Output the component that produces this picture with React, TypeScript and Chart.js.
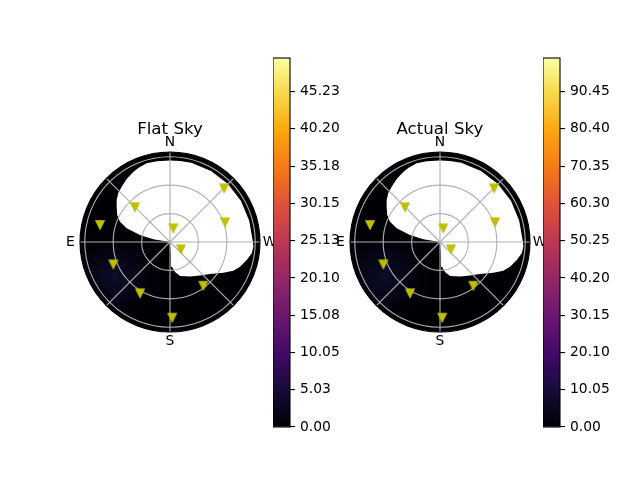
import React, { useEffect, useRef } from 'react';
import { Chart, registerables } from 'chart.js';

Chart.register(...registerables);
Chart.defaults.font.family = '"DejaVu Sans", sans-serif';
Chart.defaults.color = '#000000';

// ---- data ----
// star markers: azimuth (deg, counter-clockwise from N, E on the left) and zenith angle (deg)
const starAz = [314.8, 45.2, 289.7, 76.3, 346.5, 236.4, 111.5, 217.3, 149.7, 181.7];
const starZen = [80.5, 52.1, 61.7, 76.0, 14.9, 13.9, 64.3, 58.0, 62.7, 79.9];

// boundary of the masked (no data, white) region, projected sky plane in degrees
const maskX = [0, -17.6, -31.7, -45.7, -52.8, -55.7, -56.3, -56.3, -54.6, -51.0, -45.7, -38.8, -33.5, -24.6, -14.0, 0, 10.6, 22.4, 43.3, 61.2, 75.0, 83.6, 87.5, 88.0, 86.3, 81.0, 73.9, 66.8, 56.3, 42.2, 31.7, 21.1, 10.6, 5.3, 2.1, 1.1, 0];
const maskY = [0, 2.9, 7.4, 14.5, 21.4, 28.5, 37.3, 44.4, 51.7, 58.4, 66.5, 73.9, 78.1, 83.1, 85.2, 86.1, 85.5, 83.6, 75.0, 61.2, 43.3, 22.4, 0, -5.0, -11.9, -19.0, -26.1, -30.3, -32.4, -33.8, -35.4, -36.4, -35.9, -31.7, -26.1, -13.7, 0];

// faint low-value glow in the contour field (projected plane, degrees)
const glowX = -58;
const glowY = -36;
const glowRadius = 55;

const zenithTicks = [30, 60, 90];
const azimuthLines = [0, 45, 90, 135, 180, 225, 270, 315];
const compassLabels = ['N', 'E', 'S', 'W'];
const compassAz = [0, 90, 180, 270];
const rMax = 95;

const flatTickLabels = ['0.00', '5.03', '10.05', '15.08', '20.10', '25.13', '30.15', '35.18', '40.20', '45.23'];
const flatMax = 49.75;
const actualTickLabels = ['0.00', '10.05', '20.10', '30.15', '40.20', '50.25', '60.30', '70.35', '80.40', '90.45'];
const actualMax = 99.5;

const panelTitles = ['Flat Sky', 'Actual Sky'];

// inferno colormap stops
const infernoStops = ['#000004', '#160b39', '#420a68', '#6a176e', '#932667', '#bc3754', '#dd513a', '#f37819', '#fca50a', '#f6d746', '#fcffa4'];

const LABEL_FONT = '13.89px "DejaVu Sans", sans-serif';
const TITLE_FONT = '16.67px "DejaVu Sans", sans-serif';
const D2R = Math.PI / 180;

function makeMarker(): HTMLCanvasElement {
  const c = document.createElement('canvas');
  c.width = 12;
  c.height = 12;
  const g = c.getContext('2d')!;
  g.beginPath();
  g.moveTo(1.8, 1.8);
  g.lineTo(10.2, 1.8);
  g.lineTo(6, 10.2);
  g.closePath();
  g.fillStyle = '#bfbf00';
  g.fill();
  g.strokeStyle = '#bfbf00';
  g.lineWidth = 1.2;
  g.lineJoin = 'miter';
  g.stroke();
  return c;
}

const polarPlugin = {
  id: 'polarSky',
  beforeDatasetsDraw(chart: any) {
    const { ctx, scales } = chart;
    const x = scales.x, y = scales.y;
    const cx = x.getPixelForValue(0), cy = y.getPixelForValue(0);
    const R = x.getPixelForValue(rMax) - cx;
    ctx.save();
    ctx.beginPath();
    ctx.arc(cx, cy, R, 0, Math.PI * 2);
    ctx.fillStyle = '#000004';
    ctx.fill();
    ctx.clip();
    const gx = x.getPixelForValue(glowX), gy = y.getPixelForValue(glowY);
    const gr = x.getPixelForValue(glowRadius) - cx;
    const grad = ctx.createRadialGradient(gx, gy, 0, gx, gy, gr);
    grad.addColorStop(0, 'rgba(14,13,46,0.95)');
    grad.addColorStop(0.45, 'rgba(9,8,32,0.6)');
    grad.addColorStop(1, 'rgba(0,0,4,0)');
    ctx.fillStyle = grad;
    ctx.fillRect(cx - R, cy - R, 2 * R, 2 * R);
    ctx.restore();
  },
  afterDatasetDraw(chart: any, args: any) {
    if (args.index !== 1) return;
    const { ctx, scales } = chart;
    const x = scales.x, y = scales.y;
    const cx = x.getPixelForValue(0), cy = y.getPixelForValue(0);
    ctx.save();
    ctx.strokeStyle = '#b0b0b0';
    ctx.lineWidth = 1.1;
    for (const t of zenithTicks) {
      const r = x.getPixelForValue(t) - cx;
      ctx.beginPath();
      ctx.arc(cx, cy, r, 0, Math.PI * 2);
      ctx.stroke();
    }
    for (const a of azimuthLines) {
      const px = x.getPixelForValue(-rMax * Math.sin(a * D2R));
      const py = y.getPixelForValue(rMax * Math.cos(a * D2R));
      ctx.beginPath();
      ctx.moveTo(cx, cy);
      ctx.lineTo(px, py);
      ctx.stroke();
    }
    const R = x.getPixelForValue(rMax) - cx;
    ctx.strokeStyle = '#000000';
    ctx.beginPath();
    ctx.arc(cx, cy, R, 0, Math.PI * 2);
    ctx.stroke();
    ctx.restore();
  },
  afterDraw(chart: any, _args: any, opts: any) {
    const { ctx, scales, chartArea } = chart;
    const x = scales.x, y = scales.y;
    const cx = x.getPixelForValue(0), cy = y.getPixelForValue(0);
    const R = x.getPixelForValue(rMax) - cx;
    ctx.save();
    ctx.fillStyle = '#000000';
    ctx.font = LABEL_FONT;
    ctx.textAlign = 'center';
    ctx.textBaseline = 'middle';
    compassLabels.forEach((lab, i) => {
      const a = compassAz[i] * D2R;
      const rr = R + 9.5;
      ctx.fillText(lab, cx - rr * Math.sin(a), cy - rr * Math.cos(a));
    });
    ctx.font = TITLE_FONT;
    ctx.textBaseline = 'alphabetic';
    ctx.fillText(opts.title || '', cx, chartArea.top - 18.5);
    ctx.restore();
  },
};

const colorbarPlugin = {
  id: 'cbFrame',
  afterDraw(chart: any) {
    const { ctx, chartArea } = chart;
    ctx.save();
    ctx.strokeStyle = '#000000';
    ctx.lineWidth = 1.1;
    ctx.strokeRect(chartArea.left, chartArea.top, chartArea.right - chartArea.left, chartArea.bottom - chartArea.top);
    ctx.restore();
  },
};

function PolarPanel({ title, left }: { title: string; left: number }) {
  const ref = useRef<HTMLCanvasElement>(null);
  useEffect(() => {
    const marker = makeMarker();
    const stars = starAz.map((az, i) => ({
      x: -starZen[i] * Math.sin(az * D2R),
      y: starZen[i] * Math.cos(az * D2R),
    }));
    const mask = maskX.map((mx, i) => ({ x: mx, y: maskY[i] }));
    const chart = new Chart(ref.current!, {
      type: 'scatter',
      data: {
        datasets: [
          {
            data: stars,
            pointStyle: marker as any,
            pointRadius: 5,
            backgroundColor: '#bfbf00',
            borderColor: '#bfbf00',
          } as any,
          {
            type: 'line',
            data: mask,
            fill: 'shape',
            backgroundColor: '#ffffff',
            borderColor: 'rgba(0,0,0,0)',
            borderWidth: 0,
            pointRadius: 0,
            tension: 0,
          } as any,
        ],
      },
      options: {
        animation: false,
        responsive: false,
        maintainAspectRatio: false,
        layout: { padding: { left: 40, top: 52, right: 40, bottom: 28 } },
        scales: {
          x: { type: 'linear', min: -rMax, max: rMax, display: false },
          y: { type: 'linear', min: -rMax, max: rMax, display: false },
        },
        plugins: {
          legend: { display: false },
          tooltip: { enabled: false },
          polarSky: { title } as any,
        } as any,
      },
      plugins: [polarPlugin],
    });
    return () => chart.destroy();
  }, [title]);
  return (
    <canvas
      ref={ref}
      width={260}
      height={260}
      style={{ position: 'absolute', left, top: 100, width: 260, height: 260 }}
    />
  );
}

function Colorbar({ labels, max, left }: { labels: string[]; max: number; left: number }) {
  const ref = useRef<HTMLCanvasElement>(null);
  useEffect(() => {
    const values = labels.map((l) => parseFloat(l));
    const chart = new Chart(ref.current!, {
      type: 'bar',
      data: {
        labels: [''],
        datasets: [
          {
            data: [max],
            borderWidth: 0,
            barPercentage: 1,
            categoryPercentage: 1,
            backgroundColor: (c: any) => {
              const area = c.chart.chartArea;
              if (!area) return '#000004';
              const g = c.chart.ctx.createLinearGradient(0, area.bottom, 0, area.top);
              infernoStops.forEach((col, i) => g.addColorStop(i / (infernoStops.length - 1), col));
              return g;
            },
          } as any,
        ],
      },
      options: {
        animation: false,
        responsive: false,
        maintainAspectRatio: false,
        layout: { padding: { left: 0, right: 0, top: 18, bottom: 23 } },
        plugins: { legend: { display: false }, tooltip: { enabled: false } },
        scales: {
          x: { display: false },
          y: {
            position: 'right',
            min: 0,
            max,
            afterBuildTicks: (s: any) => {
              s.ticks = values.map((v) => ({ value: v }));
            },
            afterFit: (s: any) => {
              s.width = 60;
            },
            ticks: {
              autoSkip: false,
              padding: 5,
              color: '#000000',
              font: { size: 13.89, family: '"DejaVu Sans", sans-serif' },
              callback: (_v: any, i: number) => labels[i],
            },
            grid: { drawOnChartArea: false, drawTicks: true, tickLength: 5, color: '#000000', lineWidth: 1.1 },
            border: { display: false },
          } as any,
        },
      },
      plugins: [colorbarPlugin],
    });
    return () => chart.destroy();
  }, [labels, max]);
  return (
    <canvas
      ref={ref}
      width={77}
      height={410}
      style={{ position: 'absolute', left, top: 40, width: 77, height: 410 }}
    />
  );
}

export default function App() {
  return (
    <div style={{ position: 'absolute', left: 0, top: 0, width: 640, height: 480, background: '#ffffff', overflow: 'hidden' }}>
      <PolarPanel title={panelTitles[0]} left={40} />
      <Colorbar labels={flatTickLabels} max={flatMax} left={273} />
      <PolarPanel title={panelTitles[1]} left={310} />
      <Colorbar labels={actualTickLabels} max={actualMax} left={543} />
    </div>
  );
}
